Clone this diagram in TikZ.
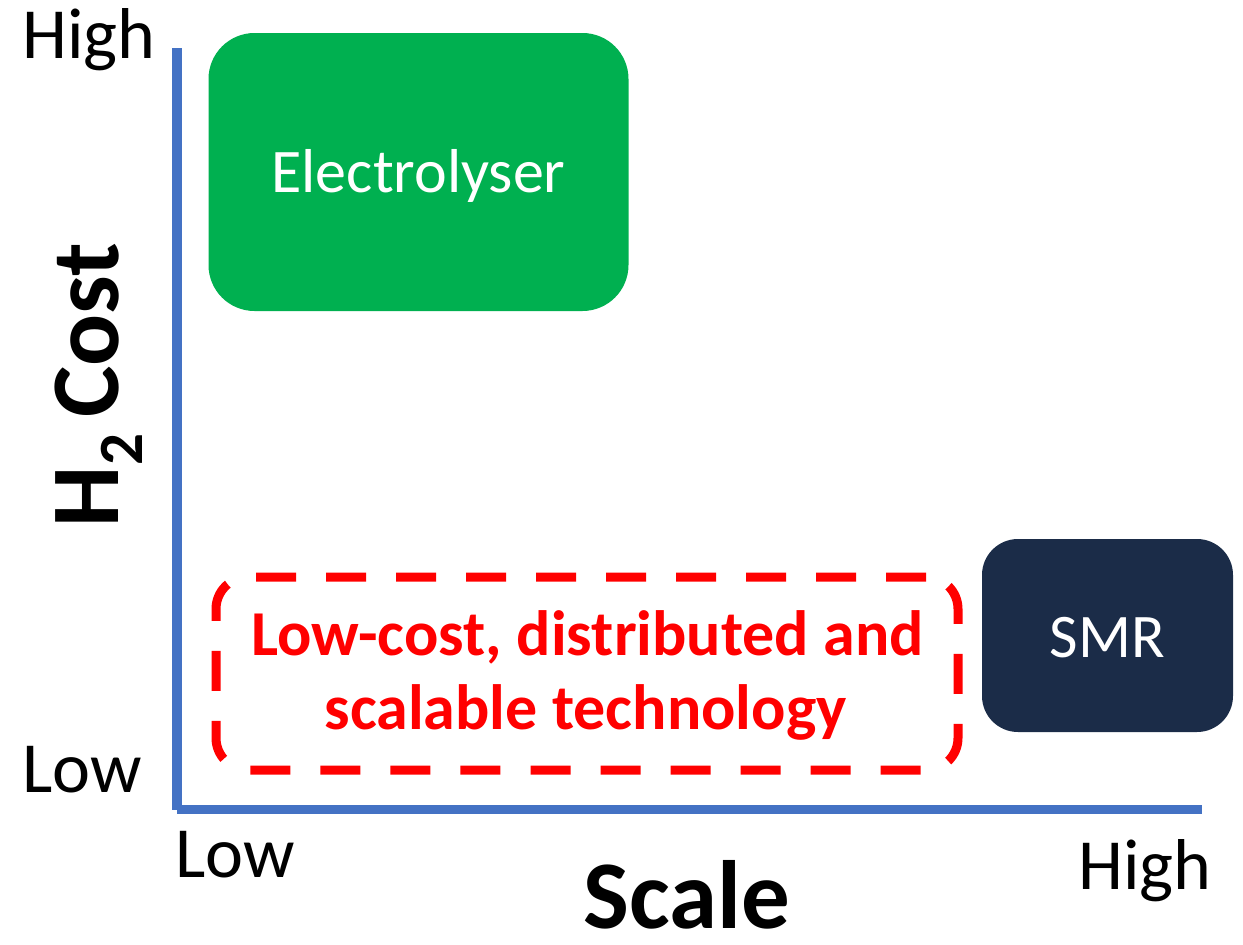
\documentclass[tikz,border=0pt]{standalone}
\usepackage{fontspec}
\setmainfont{Carlito}
\definecolor{axisblue}{HTML}{4472C4}
\definecolor{elgreen}{HTML}{00B050}
\definecolor{smrnavy}{HTML}{1B2C48}
\definecolor{techred}{HTML}{FF0000}
\tikzset{
  axisline/.style={draw=axisblue, line width=9.5pt},
  tickl/.style={font=\fontsize{72}{84}\selectfont, inner sep=0pt, anchor=base west},
  techbox/.style={rounded corners=46pt, inner sep=0pt, text=white, font=\fontsize{62}{74}\selectfont},
  dashbox/.style={draw=techred, line width=9pt, dash pattern=on 40pt off 30pt, rounded corners=32pt, inner sep=0pt},
  redtext/.style={text=techred, font=\bfseries\fontsize{64}{76}\selectfont, inner sep=0pt, anchor=base},
}
\begin{document}
\begin{tikzpicture}[x=1pt,y=-1pt]
\useasboundingbox (0,0) rectangle (1243,945);
% axes
\coordinate (origin) at (177,809.5);
\coordinate (ytop) at (177,48);
\coordinate (xend) at (1202,809.5);
\draw[axisline] (origin) -- (ytop);
\draw[axisline] (origin) -- (xend);
% axis tick labels
\node[tickl] (yhigh) at (22,58) {High};
\node[tickl] (ylow) at (22,792) {Low};
\node[tickl] (xlow) at (175,877) {Low};
\node[tickl] (xhigh) at (1078,889) {High};
% axis titles
\node[inner sep=0pt, anchor=base, rotate=90, font=\bfseries\fontsize{97}{110}\selectfont] (ytitle) at (118,385) {H\raisebox{-24pt}{\fontsize{63}{63}\selectfont 2}\,Cost};
\node[inner sep=0pt, anchor=base, text depth=0pt, font=\bfseries\fontsize{97}{100}\selectfont] (xtitle) at (687,928) {Scale};
% boxes
\node[techbox, fill=elgreen, minimum width=420pt, minimum height=278pt] (elec) at (418.5,172) {};
\node[inner sep=0pt, anchor=base, text=white, font=\fontsize{62}{74}\selectfont] (eleclabel) at (418.5,192) {Electrolyser};
\node[techbox, fill=smrnavy, rounded corners=36pt, minimum width=251pt, minimum height=193pt] (smr) at (1107.5,635.5) {};
\node[inner sep=0pt, anchor=base, text=white, font=\fontsize{62}{74}\selectfont] (smrlabel) at (1107.5,657) {SMR};
\node[dashbox, minimum width=742pt, minimum height=193pt] (tech) at (587,673.5) {};
\node[redtext] (techl1) at (587.5,655) {Low-cost, distributed and};
\node[redtext] (techl2) at (585.5,729) {scalable technology};
\end{tikzpicture}
\end{document}
